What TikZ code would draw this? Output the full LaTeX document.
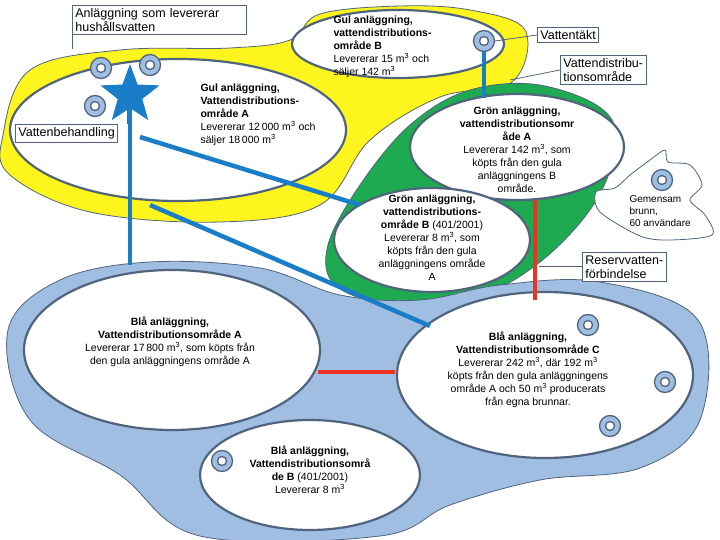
\documentclass[tikz,border=0pt]{standalone}
\usepackage{fontspec}
\setmainfont{Liberation Sans}
\usetikzlibrary{shapes.geometric,positioning}
\definecolor{gulfarg}{RGB}{255,245,30}
\definecolor{gronfarg}{RGB}{30,170,80}
\definecolor{blafarg}{RGB}{160,190,225}
\definecolor{kant}{RGB}{80,100,125}
\definecolor{ledning}{RGB}{25,125,200}
\definecolor{reserv}{RGB}{235,50,35}
\tikzset{
    % white area ellipses
    omrade/.style={
           ellipse,
           draw=kant, line width=2.2pt,
           fill=white},
    % texts inside the areas
    omtext/.style={
           align=center,
           font=\fontsize{10.5}{13}\selectfont},
    % label boxes
    etikett/.style={
           rectangle,
           draw=kant, thick,
           fill=white,
           align=left,
           inner sep=3pt,
           font=\fontsize{12.5}{14}\selectfont},
    % wells
    brunn/.style={
           circle,
           draw=kant, line width=1.3pt,
           fill=blafarg,
           minimum size=21pt,
           inner sep=0pt,
           path picture={\draw[kant, line width=1.3pt, fill=white]
             (path picture bounding box.center) circle (4.5pt);}},
    % pipes
    rör/.style={ledning, line width=4.5pt},
    res/.style={reserv, line width=3.5pt},
    pek/.style={kant, thick}
}
\begin{document}
\begin{tikzpicture}[x=1pt, y=-1pt]
\useasboundingbox (0,0) rectangle (720,540);

% coloured areas
\draw[kant, thick, fill=gulfarg] plot[smooth cycle, tension=0.6] coordinates {
  (3,135) (30,70) (120,50) (230,48) (290,40) (320,14) (400,6) (470,10)
  (525,30) (512,82) (440,97) (370,140) (320,205) (220,222) (90,212) (10,175)};
\draw[kant, thick, fill=gronfarg] plot[smooth cycle, tension=0.6] coordinates {
  (328,245) (360,185) (410,125) (470,90) (545,86) (612,120) (602,190)
  (545,258) (470,300) (390,304) (335,285)};
\draw[kant, thick, fill=blafarg] plot[smooth cycle, tension=0.6] coordinates {
  (8,330) (60,280) (150,262) (260,268) (340,295) (420,300) (500,285)
  (600,282) (698,320) (700,420) (640,468) (540,480) (450,505) (380,536)
  (200,536) (120,475) (30,420)};
\draw[kant, thick, fill=white] plot[smooth cycle, tension=0.5] coordinates {
  (630,175) (650,160) (665,150) (668,162) (690,165) (702,185) (690,200)
  (705,215) (712,235) (670,240) (640,236) (600,212) (596,192) (615,188)};

% areas
\node[omrade, minimum width=336pt, minimum height=142pt] (gulA) at (178,130) {};
\node[omrade, minimum width=212pt, minimum height=68pt] (gulB) at (398,44) {};
\node[omrade, minimum width=214pt, minimum height=106pt] (gronA) at (517,147) {};
\node[omrade, minimum width=196pt, minimum height=104pt] (gronB) at (432,240) {};
\node[omrade, minimum width=296pt, minimum height=160pt] (blaA) at (172,350) {};
\node[omrade, minimum width=296pt, minimum height=166pt] (blaC) at (545,375) {};
\node[omrade, minimum width=220pt, minimum height=110pt] (blaB) at (310,475) {};

% pipes
\node[star, star points=5, star point ratio=2.4, fill=ledning, minimum size=62pt, inner sep=0pt] (rening) at (130,95) {};
\coordinate (blatopp) at (130,265);
\draw[rör] (rening.center) -- (blatopp);
\coordinate (rorstart1) at (140,137);
\coordinate (rorslut1) at (360,205);
\draw[rör] (rorstart1) -- (rorslut1);
\coordinate (rorstart2) at (150,205);
\coordinate (rorslut2) at (430,326);
\draw[rör] (rorstart2) -- (rorslut2);
\node[brunn] (taktB) at (484,41) {};
\draw[rör] (taktB.south) -- (484,98);
\draw[res] (535,200) -- (535,300);
\draw[res] (318,372) -- (395,372);

% wells
\foreach \namn/\pos in {b1/{(101,68)}, b2/{(150,65)}, b3/{(95,106)}, b4/{(662,180)},
  b5/{(588,325)}, b6/{(665,382)}, b7/{(610,426)}, b8/{(222,461)}}
  \node[brunn] (\namn) at \pos {};

% texts
\node[omtext, align=left, anchor=north west] (tgulA) at (197,80)
  {\textbf{Gul anläggning,}\\\textbf{Vattendistributions-}\\\textbf{område A}\\Levererar 12\,000 m\textsuperscript{3} och\\säljer 18\,000 m\textsuperscript{3}};
\node[omtext, align=left, anchor=north west] (tgulB) at (330,12)
  {\textbf{Gul anläggning,}\\\textbf{vattendistributions-}\\\textbf{område B}\\Levererar 15 m\textsuperscript{3} och\\säljer 142 m\textsuperscript{3}};
\node[omtext] (tgronA) at (517,150)
  {\textbf{Grön anläggning,}\\\textbf{vattendistributionsomr}\\\textbf{åde A}\\Levererar 142 m\textsuperscript{3}, som\\köpts från den gula\\anläggningens B\\område.};
\node[omtext] (tgronB) at (432,238)
  {\textbf{Grön anläggning,}\\\textbf{vattendistributions-}\\\textbf{område B} (401/2001)\\Levererar 8 m\textsuperscript{3}, som\\köpts från den gula\\anläggningens område\\A};
\node[omtext] (tblaA) at (170,342)
  {\textbf{Blå anläggning,}\\\textbf{Vattendistributionsområde A}\\Levererar 17\,800 m\textsuperscript{3}, som köpts från\\den gula anläggningens område A};
\node[omtext] (tblaC) at (528,370)
  {\textbf{Blå anläggning,}\\\textbf{Vattendistributionsområde C}\\Levererar 242 m\textsuperscript{3}, där 192 m\textsuperscript{3}\\köpts från den gula anläggningens\\område A och 50 m\textsuperscript{3} producerats\\från egna brunnar.};
\node[omtext] (tblaB) at (310,470)
  {\textbf{Blå anläggning,}\\\textbf{Vattendistributionsområ}\\\textbf{de B} (401/2001)\\Levererar 8 m\textsuperscript{3}};
\node[align=left, font=\fontsize{10}{12}\selectfont, anchor=north west] (tbrunn) at (626,192)
  {Gemensam\\brunn,\\60 användare};

% label boxes
\node[etikett, anchor=north west, text width=168pt] (lanl) at (72,5)
  {Anläggning som levererar\\hushållsvatten};
\draw[pek] (lanl.south west) -- ++(0,14);
\node[etikett, anchor=north west] (lbeh) at (15,124) {Vattenbehandling};
\draw[pek] (lbeh.north -| 127,0) -- ++(0,-18);
\node[etikett, anchor=north west] (ltakt) at (537,27) {Vattentäkt};
\draw[pek] (ltakt.west) -- (taktB.east);
\node[etikett, anchor=north west] (lomr) at (560,55) {Vattendistribu-\\tionsområde};
\draw[pek] (lomr.west) -- ++(-50,10);
\node[etikett, anchor=north west] (lres) at (582,252) {Reservvatten-\\förbindelse};
\draw[pek] (lres.west) -- ++(-43,0);
\end{tikzpicture}
\end{document}
